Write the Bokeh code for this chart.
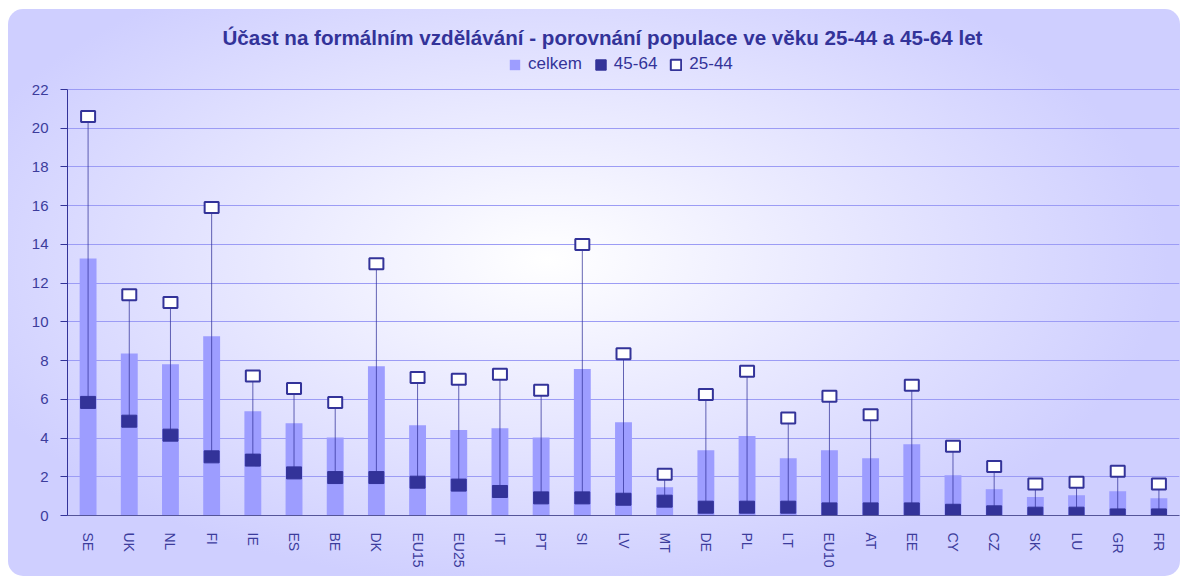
from bokeh.plotting import figure
from bokeh.models import (ColumnDataSource, Legend, LegendItem, Title, FactorRange,
                          Range1d, FixedTicker)
from bokeh.embed import file_html
from bokeh.resources import INLINE

categories = ["SE", "UK", "NL", "FI", "IE", "ES", "BE", "DK", "EU15", "EU25", "IT", "PT",
              "SI", "LV", "MT", "DE", "PL", "LT", "EU10", "AT", "EE", "CY", "CZ", "SK",
              "LU", "GR", "FR"]
celkem = [13.27, 8.37, 7.81, 9.26, 5.39, 4.77, 4.03, 7.71, 4.66, 4.41, 4.51, 4.03,
          7.56, 4.82, 1.46, 3.37, 4.10, 2.96, 3.37, 2.96, 3.68, 2.08, 1.36, 0.95,
          1.05, 1.25, 0.89]
age_45_64 = [5.84, 4.87, 4.15, 3.03, 2.86, 2.20, 1.96, 1.96, 1.72, 1.57, 1.24, 0.91,
             0.91, 0.84, 0.74, 0.43, 0.43, 0.43, 0.34, 0.34, 0.34, 0.27, 0.19, 0.12,
             0.12, 0.03, 0.03]
age_25_44 = [20.6, 11.4, 11.0, 15.9, 7.21, 6.56, 5.84, 13.0, 7.13, 7.04, 7.30, 6.47,
             14.0, 8.35, 2.13, 6.25, 7.45, 5.03, 6.16, 5.20, 6.73, 3.58, 2.53, 1.63,
             1.72, 2.29, 1.63]
y_ticks = [0, 2, 4, 6, 8, 10, 12, 14, 16, 18, 20, 22]

title_text = "Účast na formálním vzdělávání - porovnání populace ve věku 25-44 a 45-64 let"
series_names = ["celkem", "45-64", "25-44"]

DARK = "#333399"
LIGHT = "#9d9dff"
FONT = "Liberation Sans"

# layout (pixels)
W, H = 1172, 567
B_LEFT, B_RIGHT, B_TOP, B_BOTTOM = 59, 1, 42, 61
AXIS_TOP_PX = 38          # gap between frame top and the "22" tick
frame_h = H - B_TOP - B_BOTTOM
y_max = y_ticks[-1] * frame_h / (frame_h - AXIS_TOP_PX)

src = ColumnDataSource(dict(cat=categories, celkem=celkem, a45=age_45_64, a25=age_25_44))

p = figure(x_range=FactorRange(*categories, range_padding=0), y_range=Range1d(0, y_max),
           width=W, height=H, output_backend="svg", toolbar_location=None,
           title=None, min_border_left=B_LEFT, min_border_right=B_RIGHT,
           min_border_top=B_TOP, min_border_bottom=B_BOTTOM)

p.styles = {"background": "radial-gradient(ellipse 620px 330px at 540px 250px, #ffffff 0%, #cfcfff 100%)",
            "border-radius": "15px", "margin-left": "8px", "margin-top": "9px"}
p.background_fill_color = None
p.border_fill_color = None
p.outline_line_color = None

r_bar = p.vbar(x="cat", top="celkem", width=0.41, source=src, fill_color=LIGHT,
               line_color=None)
p.segment(x0="cat", y0="a45", x1="cat", y1="a25", source=src, line_color=DARK,
          line_width=1, line_alpha=0.75)
r_45 = p.rect(x="cat", y="a45", width=15, height=12, width_units="screen",
              height_units="screen", source=src, fill_color=DARK, line_color=DARK,
              line_width=1)
r_25 = p.rect(x="cat", y="a25", width=14, height=11, width_units="screen",
              height_units="screen", source=src, fill_color="white", line_color=DARK,
              line_width=2)

# axes
p.yaxis.ticker = FixedTicker(ticks=y_ticks)
p.yaxis.bounds = (0, y_ticks[-1])
p.yaxis.axis_line_color = DARK
p.yaxis.major_tick_line_color = DARK
p.yaxis.major_tick_out = 7
p.yaxis.major_tick_in = 0
p.yaxis.minor_tick_line_color = None
p.yaxis.major_label_text_font = FONT
p.yaxis.major_label_text_font_size = "15px"
p.yaxis.major_label_text_color = "#3c3c9c"
p.yaxis.major_label_standoff = 12

p.xaxis.axis_line_color = "#555599"
p.xaxis.major_tick_line_color = None
p.xaxis.minor_tick_line_color = None
p.xaxis.major_label_orientation = "vertical"
p.xaxis.major_label_text_font = FONT
p.xaxis.major_label_text_font_size = "14px"
p.xaxis.major_label_text_color = "#3c3c9c"
p.xaxis.major_label_standoff = 11

p.xgrid.grid_line_color = None
p.ygrid.grid_line_color = "#9c9cf5"
p.ygrid.grid_line_width = 1

legend = Legend(items=[LegendItem(label=series_names[0], renderers=[r_bar]),
                       LegendItem(label=series_names[1], renderers=[r_45]),
                       LegendItem(label=series_names[2], renderers=[r_25])],
                orientation="horizontal", location=(441, frame_h - 23),
                glyph_width=13, glyph_height=13, label_standoff=7, spacing=12,
                label_text_font=FONT, label_text_font_size="17px",
                label_text_color=DARK, background_fill_color=None,
                border_line_color=None, padding=0, margin=0, label_height=16)
p.add_layout(legend, "center")
p.add_layout(Title(text=title_text, align="left", text_font=FONT,
                   text_font_size="20.6px", text_font_style="bold", text_color=DARK,
                   standoff=5, offset=155), "above")

open("out.html", "w").write(file_html(p, INLINE))
